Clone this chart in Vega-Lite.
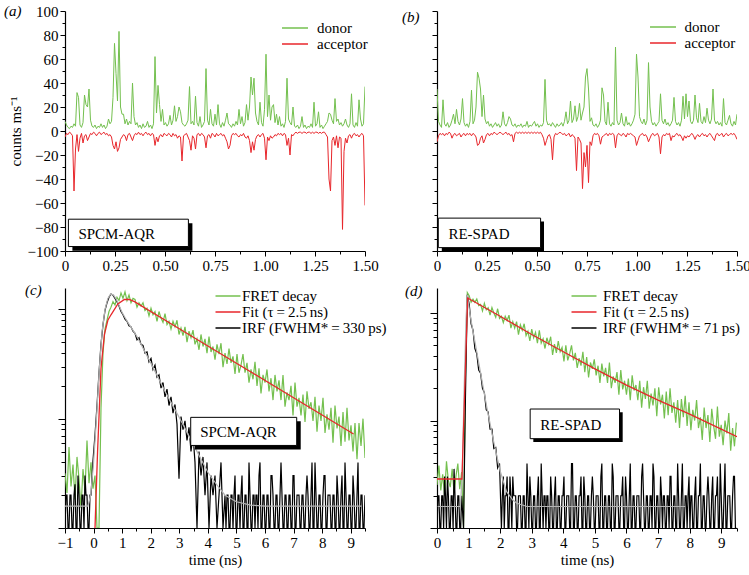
{
"$schema":"https://vega.github.io/schema/vega-lite/v6.json",
"background":"white",
"padding":{"left":4,"top":4,"right":2,"bottom":2},
"config":{
 "font":"Liberation Serif, Times New Roman, serif",
 "view":{"stroke":null},
 "axis":{"grid":false,"domainColor":"#000","domainWidth":1.2,"tickColor":"#000","tickWidth":1,"labelColor":"#000","labelFont":"Liberation Serif, Times New Roman, serif","labelFontSize":15,"labelFlush":false,"labelOverlap":false,"labelPadding":2,"titleColor":"#000","titleFont":"Liberation Serif, Times New Roman, serif","titleFontSize":15,"titleFontWeight":"normal"},
 "legend":{"labelFont":"Liberation Serif, Times New Roman, serif","labelFontSize":15,"labelColor":"#000","padding":0,"symbolStrokeWidth":1.5,"symbolType":"M-2.5,0H2.5","symbolSize":100,"labelLimit":400,"orient":"none","rowPadding":-2},
 "title":{"font":"Liberation Serif, Times New Roman, serif","fontSize":15,"fontWeight":"normal","fontStyle":"italic","color":"#000","anchor":"start","frame":"group","offset":0,"baseline":"middle"},
 "text":{"font":"Liberation Serif, Times New Roman, serif"}
},
"columns":2,
"align":"each",
"spacing":{"row":10,"column":14},
"resolve":{"scale":{"color":"independent"},"legend":{"color":"independent"}},
"datasets":{
"ta":[
{"t":0,"donor":8,"acceptor":-5},{"t":0.0075,"donor":5,"acceptor":-2},{"t":0.015,"donor":3,"acceptor":-3},{"t":0.0225,"donor":2,"acceptor":-1},{"t":0.03,"donor":4,"acceptor":-2},{"t":0.0375,"donor":3,"acceptor":-4},{"t":0.045,"donor":6,"acceptor":-50},{"t":0.0525,"donor":4,"acceptor":-15},{"t":0.06,"donor":32,"acceptor":-3},{"t":0.0675,"donor":28,"acceptor":-17},
{"t":0.075,"donor":5,"acceptor":-6},{"t":0.0825,"donor":3,"acceptor":-2},{"t":0.09,"donor":7,"acceptor":-10},{"t":0.0975,"donor":30,"acceptor":-4},{"t":0.105,"donor":22,"acceptor":-3},{"t":0.1125,"donor":20,"acceptor":-8},{"t":0.12,"donor":35,"acceptor":-5},{"t":0.1275,"donor":9,"acceptor":-2},{"t":0.135,"donor":4,"acceptor":-3},{"t":0.1425,"donor":3,"acceptor":-1},
{"t":0.15,"donor":5,"acceptor":-2},{"t":0.1575,"donor":2,"acceptor":-4},{"t":0.165,"donor":4,"acceptor":-2},{"t":0.1725,"donor":3,"acceptor":-1},{"t":0.18,"donor":6,"acceptor":-3},{"t":0.1875,"donor":3,"acceptor":-2},{"t":0.195,"donor":5,"acceptor":-1},{"t":0.2025,"donor":2,"acceptor":-3},{"t":0.21,"donor":4,"acceptor":-2},{"t":0.2175,"donor":10,"acceptor":-4},
{"t":0.225,"donor":6,"acceptor":-3},{"t":0.2325,"donor":8,"acceptor":-5},{"t":0.24,"donor":28,"acceptor":-12},{"t":0.2475,"donor":73,"acceptor":-15},{"t":0.255,"donor":48,"acceptor":-9},{"t":0.2625,"donor":25,"acceptor":-17},{"t":0.27,"donor":83,"acceptor":-14},{"t":0.2775,"donor":20,"acceptor":-7},{"t":0.285,"donor":14,"acceptor":-5},{"t":0.2925,"donor":14,"acceptor":-3},
{"t":0.3,"donor":6,"acceptor":-4},{"t":0.3075,"donor":10,"acceptor":-8},{"t":0.315,"donor":5,"acceptor":-3},{"t":0.3225,"donor":8,"acceptor":-2},{"t":0.33,"donor":6,"acceptor":-5},{"t":0.3375,"donor":40,"acceptor":-8},{"t":0.345,"donor":12,"acceptor":-4},{"t":0.3525,"donor":5,"acceptor":-2},{"t":0.36,"donor":7,"acceptor":-3},{"t":0.3675,"donor":3,"acceptor":-1},
{"t":0.375,"donor":5,"acceptor":-3},{"t":0.3825,"donor":2,"acceptor":-2},{"t":0.39,"donor":6,"acceptor":-4},{"t":0.3975,"donor":3,"acceptor":-2},{"t":0.405,"donor":4,"acceptor":-1},{"t":0.4125,"donor":8,"acceptor":-3},{"t":0.42,"donor":3,"acceptor":-2},{"t":0.4275,"donor":5,"acceptor":-4},{"t":0.435,"donor":2,"acceptor":-2},{"t":0.4425,"donor":6,"acceptor":-3},
{"t":0.45,"donor":62,"acceptor":-12},{"t":0.4575,"donor":15,"acceptor":-5},{"t":0.465,"donor":38,"acceptor":-9},{"t":0.4725,"donor":22,"acceptor":-4},{"t":0.48,"donor":8,"acceptor":-3},{"t":0.4875,"donor":18,"acceptor":-5},{"t":0.495,"donor":5,"acceptor":-2},{"t":0.5025,"donor":7,"acceptor":-3},{"t":0.51,"donor":4,"acceptor":-4},{"t":0.5175,"donor":6,"acceptor":-2},
{"t":0.525,"donor":13,"acceptor":-3},{"t":0.5325,"donor":5,"acceptor":-5},{"t":0.54,"donor":9,"acceptor":-2},{"t":0.5475,"donor":21,"acceptor":-4},{"t":0.555,"donor":8,"acceptor":-3},{"t":0.5625,"donor":12,"acceptor":-6},{"t":0.57,"donor":20,"acceptor":-4},{"t":0.5775,"donor":16,"acceptor":-5},{"t":0.585,"donor":7,"acceptor":-25},{"t":0.5925,"donor":5,"acceptor":-4},
{"t":0.6,"donor":4,"acceptor":-3},{"t":0.6075,"donor":6,"acceptor":-2},{"t":0.615,"donor":9,"acceptor":-5},{"t":0.6225,"donor":37,"acceptor":-8},{"t":0.63,"donor":6,"acceptor":-16},{"t":0.6375,"donor":8,"acceptor":-4},{"t":0.645,"donor":5,"acceptor":-6},{"t":0.6525,"donor":29,"acceptor":-15},{"t":0.66,"donor":7,"acceptor":-3},{"t":0.6675,"donor":4,"acceptor":-2},
{"t":0.675,"donor":12,"acceptor":-4},{"t":0.6825,"donor":3,"acceptor":-2},{"t":0.69,"donor":5,"acceptor":-3},{"t":0.6975,"donor":8,"acceptor":-5},{"t":0.705,"donor":52,"acceptor":-14},{"t":0.7125,"donor":9,"acceptor":-4},{"t":0.72,"donor":5,"acceptor":-3},{"t":0.7275,"donor":18,"acceptor":-6},{"t":0.735,"donor":6,"acceptor":-2},{"t":0.7425,"donor":4,"acceptor":-3},
{"t":0.75,"donor":14,"acceptor":-5},{"t":0.7575,"donor":5,"acceptor":-2},{"t":0.765,"donor":22,"acceptor":-4},{"t":0.7725,"donor":6,"acceptor":-3},{"t":0.78,"donor":3,"acceptor":-2},{"t":0.7875,"donor":7,"acceptor":-4},{"t":0.795,"donor":4,"acceptor":-3},{"t":0.8025,"donor":9,"acceptor":-6},{"t":0.81,"donor":15,"acceptor":-9},{"t":0.8175,"donor":6,"acceptor":-15},
{"t":0.825,"donor":5,"acceptor":-12},{"t":0.8325,"donor":3,"acceptor":-4},{"t":0.84,"donor":6,"acceptor":-2},{"t":0.8475,"donor":4,"acceptor":-3},{"t":0.855,"donor":8,"acceptor":-2},{"t":0.8625,"donor":5,"acceptor":-4},{"t":0.87,"donor":18,"acceptor":-5},{"t":0.8775,"donor":6,"acceptor":-3},{"t":0.885,"donor":12,"acceptor":-4},{"t":0.8925,"donor":4,"acceptor":-2},
{"t":0.9,"donor":7,"acceptor":-5},{"t":0.9075,"donor":22,"acceptor":-6},{"t":0.915,"donor":9,"acceptor":-4},{"t":0.9225,"donor":20,"acceptor":-8},{"t":0.93,"donor":45,"acceptor":-18},{"t":0.9375,"donor":30,"acceptor":-9},{"t":0.945,"donor":44,"acceptor":-16},{"t":0.9525,"donor":15,"acceptor":-7},{"t":0.96,"donor":8,"acceptor":-4},{"t":0.9675,"donor":5,"acceptor":-3},
{"t":0.975,"donor":24,"acceptor":-5},{"t":0.9825,"donor":7,"acceptor":-3},{"t":0.99,"donor":4,"acceptor":-2},{"t":0.9975,"donor":18,"acceptor":-6},{"t":1.005,"donor":64,"acceptor":-24},{"t":1.0125,"donor":12,"acceptor":-5},{"t":1.02,"donor":30,"acceptor":-8},{"t":1.0275,"donor":9,"acceptor":-4},{"t":1.035,"donor":20,"acceptor":-6},{"t":1.0425,"donor":22,"acceptor":-5},
{"t":1.05,"donor":7,"acceptor":-3},{"t":1.0575,"donor":14,"acceptor":-4},{"t":1.065,"donor":5,"acceptor":-2},{"t":1.0725,"donor":12,"acceptor":-3},{"t":1.08,"donor":4,"acceptor":-2},{"t":1.0875,"donor":6,"acceptor":-4},{"t":1.095,"donor":3,"acceptor":-2},{"t":1.1025,"donor":8,"acceptor":-3},{"t":1.11,"donor":44,"acceptor":-12},{"t":1.1175,"donor":10,"acceptor":-6},
{"t":1.125,"donor":7,"acceptor":-20},{"t":1.1325,"donor":5,"acceptor":-3},{"t":1.14,"donor":20,"acceptor":-4},{"t":1.1475,"donor":4,"acceptor":-2},{"t":1.155,"donor":3,"acceptor":-1},{"t":1.1625,"donor":5,"acceptor":-2},{"t":1.17,"donor":2,"acceptor":-1},{"t":1.1775,"donor":4,"acceptor":-1},{"t":1.185,"donor":12,"acceptor":-2},{"t":1.1925,"donor":3,"acceptor":-1},
{"t":1.2,"donor":5,"acceptor":-1},{"t":1.2075,"donor":2,"acceptor":-2},{"t":1.215,"donor":4,"acceptor":-1},{"t":1.2225,"donor":3,"acceptor":-1},{"t":1.23,"donor":6,"acceptor":-2},{"t":1.2375,"donor":3,"acceptor":-1},{"t":1.245,"donor":24,"acceptor":-2},{"t":1.2525,"donor":4,"acceptor":-1},{"t":1.26,"donor":6,"acceptor":-1},{"t":1.2675,"donor":16,"acceptor":-2},
{"t":1.275,"donor":3,"acceptor":-1},{"t":1.2825,"donor":5,"acceptor":-2},{"t":1.29,"donor":2,"acceptor":-1},{"t":1.2975,"donor":4,"acceptor":-1},{"t":1.305,"donor":6,"acceptor":-3},{"t":1.3125,"donor":8,"acceptor":-5},{"t":1.32,"donor":15,"acceptor":-40},{"t":1.3275,"donor":14,"acceptor":-50},{"t":1.335,"donor":9,"acceptor":-8},{"t":1.3425,"donor":6,"acceptor":-5},
{"t":1.35,"donor":27,"acceptor":-12},{"t":1.3575,"donor":8,"acceptor":-4},{"t":1.365,"donor":10,"acceptor":-14},{"t":1.3725,"donor":5,"acceptor":-5},{"t":1.38,"donor":7,"acceptor":-6},{"t":1.3875,"donor":4,"acceptor":-82},{"t":1.395,"donor":6,"acceptor":-17},{"t":1.4025,"donor":10,"acceptor":-6},{"t":1.41,"donor":5,"acceptor":-10},{"t":1.4175,"donor":3,"acceptor":-4},
{"t":1.425,"donor":6,"acceptor":-3},{"t":1.4325,"donor":31,"acceptor":-6},{"t":1.44,"donor":5,"acceptor":-3},{"t":1.4475,"donor":3,"acceptor":-2},{"t":1.455,"donor":7,"acceptor":-4},{"t":1.4625,"donor":4,"acceptor":-3},{"t":1.47,"donor":26,"acceptor":-5},{"t":1.4775,"donor":10,"acceptor":-3},{"t":1.485,"donor":4,"acceptor":-2},{"t":1.4925,"donor":6,"acceptor":-4},
{"t":1.5,"donor":37,"acceptor":-62}
],
"tb":[
{"t":0,"donor":35,"acceptor":-9},{"t":0.0075,"donor":8,"acceptor":-4},{"t":0.015,"donor":5,"acceptor":-2},{"t":0.0225,"donor":3,"acceptor":-3},{"t":0.03,"donor":26,"acceptor":-2},{"t":0.0375,"donor":6,"acceptor":-4},{"t":0.045,"donor":4,"acceptor":-2},{"t":0.0525,"donor":7,"acceptor":-3},{"t":0.06,"donor":3,"acceptor":-1},{"t":0.0675,"donor":5,"acceptor":-2},
{"t":0.075,"donor":9,"acceptor":-6},{"t":0.0825,"donor":14,"acceptor":-3},{"t":0.09,"donor":6,"acceptor":-2},{"t":0.0975,"donor":18,"acceptor":-4},{"t":0.105,"donor":8,"acceptor":-3},{"t":0.1125,"donor":5,"acceptor":-2},{"t":0.12,"donor":10,"acceptor":-5},{"t":0.1275,"donor":27,"acceptor":-3},{"t":0.135,"donor":7,"acceptor":-2},{"t":0.1425,"donor":4,"acceptor":-4},
{"t":0.15,"donor":6,"acceptor":-2},{"t":0.1575,"donor":3,"acceptor":-3},{"t":0.165,"donor":8,"acceptor":-2},{"t":0.1725,"donor":34,"acceptor":-4},{"t":0.18,"donor":6,"acceptor":-2},{"t":0.1875,"donor":9,"acceptor":-3},{"t":0.195,"donor":20,"acceptor":-5},{"t":0.2025,"donor":49,"acceptor":-12},{"t":0.21,"donor":44,"acceptor":-11},{"t":0.2175,"donor":35,"acceptor":-6},
{"t":0.225,"donor":12,"acceptor":-4},{"t":0.2325,"donor":30,"acceptor":-10},{"t":0.24,"donor":10,"acceptor":-7},{"t":0.2475,"donor":6,"acceptor":-3},{"t":0.255,"donor":8,"acceptor":-2},{"t":0.2625,"donor":4,"acceptor":-4},{"t":0.27,"donor":6,"acceptor":-2},{"t":0.2775,"donor":3,"acceptor":-3},{"t":0.285,"donor":5,"acceptor":-1},{"t":0.2925,"donor":7,"acceptor":-2},
{"t":0.3,"donor":4,"acceptor":-3},{"t":0.3075,"donor":6,"acceptor":-2},{"t":0.315,"donor":3,"acceptor":-1},{"t":0.3225,"donor":5,"acceptor":-2},{"t":0.33,"donor":16,"acceptor":-3},{"t":0.3375,"donor":6,"acceptor":-2},{"t":0.345,"donor":4,"acceptor":-1},{"t":0.3525,"donor":7,"acceptor":-3},{"t":0.36,"donor":12,"acceptor":-2},{"t":0.3675,"donor":10,"acceptor":-4},
{"t":0.375,"donor":5,"acceptor":-3},{"t":0.3825,"donor":4,"acceptor":-9},{"t":0.39,"donor":6,"acceptor":-2},{"t":0.3975,"donor":3,"acceptor":-1},{"t":0.405,"donor":5,"acceptor":-2},{"t":0.4125,"donor":4,"acceptor":-1},{"t":0.42,"donor":6,"acceptor":-2},{"t":0.4275,"donor":3,"acceptor":-1},{"t":0.435,"donor":5,"acceptor":-2},{"t":0.4425,"donor":4,"acceptor":-1},
{"t":0.45,"donor":8,"acceptor":-2},{"t":0.4575,"donor":3,"acceptor":-1},{"t":0.465,"donor":5,"acceptor":-2},{"t":0.4725,"donor":4,"acceptor":-1},{"t":0.48,"donor":6,"acceptor":-2},{"t":0.4875,"donor":8,"acceptor":-1},{"t":0.495,"donor":4,"acceptor":-2},{"t":0.5025,"donor":6,"acceptor":-1},{"t":0.51,"donor":3,"acceptor":-2},{"t":0.5175,"donor":5,"acceptor":-1},
{"t":0.525,"donor":4,"acceptor":-3},{"t":0.5325,"donor":7,"acceptor":-6},{"t":0.54,"donor":43,"acceptor":-12},{"t":0.5475,"donor":9,"acceptor":-8},{"t":0.555,"donor":5,"acceptor":-4},{"t":0.5625,"donor":6,"acceptor":-3},{"t":0.57,"donor":4,"acceptor":-7},{"t":0.5775,"donor":7,"acceptor":-24},{"t":0.585,"donor":5,"acceptor":-5},{"t":0.5925,"donor":3,"acceptor":-2},
{"t":0.6,"donor":6,"acceptor":-3},{"t":0.6075,"donor":4,"acceptor":-2},{"t":0.615,"donor":5,"acceptor":-1},{"t":0.6225,"donor":7,"acceptor":-2},{"t":0.63,"donor":4,"acceptor":-3},{"t":0.6375,"donor":8,"acceptor":-2},{"t":0.645,"donor":16,"acceptor":-4},{"t":0.6525,"donor":6,"acceptor":-3},{"t":0.66,"donor":9,"acceptor":-2},{"t":0.6675,"donor":25,"acceptor":-5},
{"t":0.675,"donor":7,"acceptor":-3},{"t":0.6825,"donor":10,"acceptor":-4},{"t":0.69,"donor":21,"acceptor":-6},{"t":0.6975,"donor":8,"acceptor":-33},{"t":0.705,"donor":12,"acceptor":-5},{"t":0.7125,"donor":23,"acceptor":-7},{"t":0.72,"donor":9,"acceptor":-10},{"t":0.7275,"donor":15,"acceptor":-48},{"t":0.735,"donor":20,"acceptor":-18},{"t":0.7425,"donor":45,"acceptor":-30},
{"t":0.75,"donor":52,"acceptor":-12},{"t":0.7575,"donor":35,"acceptor":-43},{"t":0.765,"donor":8,"acceptor":-9},{"t":0.7725,"donor":11,"acceptor":-12},{"t":0.78,"donor":5,"acceptor":-4},{"t":0.7875,"donor":4,"acceptor":-2},{"t":0.795,"donor":6,"acceptor":-3},{"t":0.8025,"donor":3,"acceptor":-2},{"t":0.81,"donor":5,"acceptor":-4},{"t":0.8175,"donor":9,"acceptor":-11},
{"t":0.825,"donor":36,"acceptor":-5},{"t":0.8325,"donor":30,"acceptor":-4},{"t":0.84,"donor":8,"acceptor":-3},{"t":0.8475,"donor":5,"acceptor":-2},{"t":0.855,"donor":24,"acceptor":-4},{"t":0.8625,"donor":6,"acceptor":-2},{"t":0.87,"donor":4,"acceptor":-3},{"t":0.8775,"donor":7,"acceptor":-2},{"t":0.885,"donor":5,"acceptor":-3},{"t":0.8925,"donor":70,"acceptor":-14},
{"t":0.9,"donor":9,"acceptor":-4},{"t":0.9075,"donor":5,"acceptor":-2},{"t":0.915,"donor":7,"acceptor":-3},{"t":0.9225,"donor":15,"acceptor":-4},{"t":0.93,"donor":6,"acceptor":-2},{"t":0.9375,"donor":4,"acceptor":-3},{"t":0.945,"donor":12,"acceptor":-5},{"t":0.9525,"donor":5,"acceptor":-2},{"t":0.96,"donor":7,"acceptor":-3},{"t":0.9675,"donor":4,"acceptor":-2},
{"t":0.975,"donor":6,"acceptor":-3},{"t":0.9825,"donor":9,"acceptor":-4},{"t":0.99,"donor":14,"acceptor":-5},{"t":0.9975,"donor":64,"acceptor":-12},{"t":1.005,"donor":45,"acceptor":-8},{"t":1.0125,"donor":12,"acceptor":-4},{"t":1.02,"donor":8,"acceptor":-3},{"t":1.0275,"donor":6,"acceptor":-2},{"t":1.035,"donor":10,"acceptor":-4},{"t":1.0425,"donor":5,"acceptor":-3},
{"t":1.05,"donor":9,"acceptor":-5},{"t":1.0575,"donor":57,"acceptor":-9},{"t":1.065,"donor":20,"acceptor":-6},{"t":1.0725,"donor":8,"acceptor":-3},{"t":1.08,"donor":5,"acceptor":-2},{"t":1.0875,"donor":7,"acceptor":-4},{"t":1.095,"donor":4,"acceptor":-3},{"t":1.1025,"donor":6,"acceptor":-2},{"t":1.11,"donor":8,"acceptor":-5},{"t":1.1175,"donor":31,"acceptor":-19},
{"t":1.125,"donor":9,"acceptor":-5},{"t":1.1325,"donor":6,"acceptor":-3},{"t":1.14,"donor":10,"acceptor":-4},{"t":1.1475,"donor":5,"acceptor":-2},{"t":1.155,"donor":7,"acceptor":-3},{"t":1.1625,"donor":4,"acceptor":-2},{"t":1.17,"donor":6,"acceptor":-8},{"t":1.1775,"donor":9,"acceptor":-4},{"t":1.185,"donor":28,"acceptor":-5},{"t":1.1925,"donor":8,"acceptor":-3},
{"t":1.2,"donor":5,"acceptor":-2},{"t":1.2075,"donor":7,"acceptor":-4},{"t":1.215,"donor":4,"acceptor":-3},{"t":1.2225,"donor":9,"acceptor":-5},{"t":1.23,"donor":29,"acceptor":-8},{"t":1.2375,"donor":10,"acceptor":-4},{"t":1.245,"donor":31,"acceptor":-6},{"t":1.2525,"donor":12,"acceptor":-4},{"t":1.26,"donor":25,"acceptor":-5},{"t":1.2675,"donor":8,"acceptor":-3},
{"t":1.275,"donor":6,"acceptor":-2},{"t":1.2825,"donor":9,"acceptor":-4},{"t":1.29,"donor":30,"acceptor":-7},{"t":1.2975,"donor":11,"acceptor":-4},{"t":1.305,"donor":7,"acceptor":-3},{"t":1.3125,"donor":23,"acceptor":-5},{"t":1.32,"donor":8,"acceptor":-3},{"t":1.3275,"donor":6,"acceptor":-2},{"t":1.335,"donor":12,"acceptor":-4},{"t":1.3425,"donor":7,"acceptor":-3},
{"t":1.35,"donor":19,"acceptor":-5},{"t":1.3575,"donor":9,"acceptor":-3},{"t":1.365,"donor":6,"acceptor":-2},{"t":1.3725,"donor":10,"acceptor":-4},{"t":1.38,"donor":35,"acceptor":-6},{"t":1.3875,"donor":9,"acceptor":-8},{"t":1.395,"donor":6,"acceptor":-3},{"t":1.4025,"donor":8,"acceptor":-2},{"t":1.41,"donor":5,"acceptor":-4},{"t":1.4175,"donor":7,"acceptor":-3},
{"t":1.425,"donor":4,"acceptor":-2},{"t":1.4325,"donor":27,"acceptor":-5},{"t":1.44,"donor":7,"acceptor":-3},{"t":1.4475,"donor":5,"acceptor":-2},{"t":1.455,"donor":9,"acceptor":-4},{"t":1.4625,"donor":13,"acceptor":-3},{"t":1.47,"donor":6,"acceptor":-2},{"t":1.4775,"donor":4,"acceptor":-3},{"t":1.485,"donor":8,"acceptor":-2},{"t":1.4925,"donor":5,"acceptor":-4},
{"t":1.5,"donor":14,"acceptor":-7}
],
"tc":[
{"t":-1,"f":0.5,"i":0},{"t":-0.93,"f":0.32,"i":0.3},{"t":-0.86,"f":0.74,"i":0},{"t":-0.79,"f":0.38,"i":0.3},{"t":-0.72,"f":0.58,"i":0},{"t":-0.65,"f":0.26,"i":0.4},{"t":-0.58,"f":0.65,"i":0},{"t":-0.51,"f":0.45,"i":0.3},{"t":-0.44,"f":0.18,"i":0},{"t":-0.37,"f":0.54,"i":0.3},
{"t":-0.3,"f":0.34,"i":0.48},{"t":-0.23,"f":0.8,"i":0.3},{"t":-0.16,"f":0.41,"i":0},{"t":-0.09,"f":0.6,"i":0.3},{"t":-0.02,"f":0.36,"i":0.62},{"t":0.05,"f":0.48,"i":0.85},{"t":0.12,"f":0,"i":1.12},{"t":0.19,"f":0,"i":1.42},{"t":0.26,"f":1.1,"i":1.68},{"t":0.33,"f":1.6,"i":1.86},
{"t":0.4,"f":1.82,"i":1.99},{"t":0.47,"f":1.9,"i":2.06},{"t":0.54,"f":1.98,"i":2.11},{"t":0.61,"f":2.02,"i":2.14},{"t":0.68,"f":2.07,"i":2.13},{"t":0.75,"f":2.04,"i":2.1},{"t":0.82,"f":2.11,"i":2.07},{"t":0.89,"f":2.08,"i":2.03},{"t":0.96,"f":2.15,"i":1.98},{"t":1.03,"f":2.1,"i":1.95},
{"t":1.1,"f":2.16,"i":1.91},{"t":1.17,"f":2.08,"i":1.89},{"t":1.24,"f":2.13,"i":1.85},{"t":1.31,"f":2.06,"i":1.84},{"t":1.38,"f":2.1,"i":1.8},{"t":1.45,"f":2.09,"i":1.78},{"t":1.52,"f":2.02,"i":1.72},{"t":1.59,"f":2.06,"i":1.74},{"t":1.66,"f":2.03,"i":1.68},{"t":1.73,"f":2.06,"i":1.67},
{"t":1.8,"f":1.99,"i":1.6},{"t":1.87,"f":2.01,"i":1.61},{"t":1.94,"f":1.94,"i":1.52},{"t":2.01,"f":2.01,"i":1.55},{"t":2.08,"f":1.95,"i":1.45},{"t":2.15,"f":1.98,"i":1.49},{"t":2.22,"f":1.89,"i":1.38},{"t":2.29,"f":1.98,"i":1.4},{"t":2.36,"f":1.92,"i":1.28},{"t":2.43,"f":1.88,"i":1.33},
{"t":2.5,"f":1.96,"i":1.2},{"t":2.57,"f":1.86,"i":1.27},{"t":2.64,"f":1.89,"i":1.12},{"t":2.71,"f":1.82,"i":1.2},{"t":2.78,"f":1.89,"i":1.05},{"t":2.85,"f":1.84,"i":1.13},{"t":2.92,"f":1.9,"i":0.95},{"t":2.99,"f":1.77,"i":0.45},{"t":3.06,"f":1.83,"i":1.02},{"t":3.13,"f":1.76,"i":0.9},
{"t":3.2,"f":1.84,"i":0.98},{"t":3.27,"f":1.7,"i":0.8},{"t":3.34,"f":1.8,"i":0.92},{"t":3.41,"f":1.74,"i":0.7},{"t":3.48,"f":1.81,"i":0.85},{"t":3.55,"f":1.68,"i":0.6},{"t":3.62,"f":1.73,"i":0},{"t":3.69,"f":1.63,"i":0.7},{"t":3.76,"f":1.77,"i":0.48},{"t":3.83,"f":1.66,"i":0.65},
{"t":3.9,"f":1.73,"i":0.3},{"t":3.97,"f":1.6,"i":0.6},{"t":4.04,"f":1.75,"i":0},{"t":4.11,"f":1.61,"i":0.48},{"t":4.18,"f":1.66,"i":0.3},{"t":4.25,"f":1.54,"i":0.48},{"t":4.32,"f":1.68,"i":0},{"t":4.39,"f":1.59,"i":0.3},{"t":4.46,"f":1.69,"i":0.6},{"t":4.53,"f":1.47,"i":0},
{"t":4.6,"f":1.6,"i":0.3},{"t":4.67,"f":1.5,"i":0.3},{"t":4.74,"f":1.64,"i":0},{"t":4.81,"f":1.51,"i":0.3},{"t":4.88,"f":1.57,"i":0},{"t":4.95,"f":1.41,"i":0.48},{"t":5.02,"f":1.59,"i":0},{"t":5.09,"f":1.42,"i":0.3},{"t":5.16,"f":1.49,"i":0.3},{"t":5.23,"f":1.59,"i":0},
{"t":5.3,"f":1.42,"i":0.3},{"t":5.37,"f":1.51,"i":0},{"t":5.44,"f":1.33,"i":0.6},{"t":5.51,"f":1.45,"i":0},{"t":5.58,"f":1.36,"i":0.3},{"t":5.65,"f":1.52,"i":0},{"t":5.72,"f":1.3,"i":0.3},{"t":5.79,"f":1.46,"i":0.48},{"t":5.86,"f":1.23,"i":0},{"t":5.93,"f":1.4,"i":0.3},
{"t":6,"f":1.33,"i":0},{"t":6.07,"f":1.45,"i":0.3},{"t":6.14,"f":1.25,"i":0},{"t":6.21,"f":1.37,"i":0.48},{"t":6.28,"f":1.17,"i":0.3},{"t":6.35,"f":1.4,"i":0},{"t":6.42,"f":1.25,"i":0.3},{"t":6.49,"f":1.35,"i":0},{"t":6.56,"f":1.17,"i":0.6},{"t":6.63,"f":1.4,"i":0},
{"t":6.7,"f":1.11,"i":0.3},{"t":6.77,"f":1.24,"i":0},{"t":6.84,"f":1.17,"i":0.3},{"t":6.91,"f":1.3,"i":0},{"t":6.98,"f":1.03,"i":0.48},{"t":7.05,"f":1.33,"i":0},{"t":7.12,"f":1.11,"i":0.3},{"t":7.19,"f":1.19,"i":0.3},{"t":7.26,"f":1.03,"i":0},{"t":7.33,"f":1.22,"i":0.3},
{"t":7.4,"f":0.97,"i":0},{"t":7.47,"f":1.25,"i":0.48},{"t":7.54,"f":1.09,"i":0},{"t":7.61,"f":1.15,"i":0.3},{"t":7.68,"f":0.98,"i":0},{"t":7.75,"f":1.2,"i":0.6},{"t":7.82,"f":0.88,"i":0},{"t":7.89,"f":1.12,"i":0.3},{"t":7.96,"f":0.98,"i":0},{"t":8.03,"f":1.19,"i":0.3},
{"t":8.1,"f":0.87,"i":0.48},{"t":8.17,"f":1.04,"i":0},{"t":8.24,"f":0.9,"i":0.3},{"t":8.31,"f":1.1,"i":0},{"t":8.38,"f":0.78,"i":0.3},{"t":8.45,"f":1.12,"i":0},{"t":8.52,"f":0.91,"i":0.48},{"t":8.59,"f":1.02,"i":0},{"t":8.66,"f":0.75,"i":0.3},{"t":8.73,"f":1.06,"i":0},
{"t":8.8,"f":0.79,"i":0.6},{"t":8.87,"f":1.1,"i":0},{"t":8.94,"f":0.8,"i":0.3},{"t":9.01,"f":0.94,"i":0},{"t":9.08,"f":0.7,"i":0.48},{"t":9.15,"f":0.96,"i":0},{"t":9.22,"f":0.63,"i":0.3},{"t":9.29,"f":0.96,"i":0},{"t":9.36,"f":0.75,"i":0.3},{"t":9.43,"f":1,"i":0},
{"t":9.5,"f":0.64,"i":0.3},
{"t":-0.965,"i":0.3},{"t":-0.895,"i":0},{"t":-0.825,"i":0.3},{"t":-0.755,"i":0},{"t":-0.685,"i":0.3},{"t":-0.615,"i":0},{"t":-0.545,"i":0.48},{"t":-0.475,"i":0},{"t":-0.405,"i":0.3},{"t":-0.335,"i":0},{"t":-0.265,"i":0.3},{"t":-0.195,"i":0},{"t":-0.125,"i":0.3},
{"t":4.635,"i":0},{"t":4.705,"i":0.3},{"t":4.775,"i":0},{"t":4.845,"i":0.3},{"t":4.915,"i":0.3},{"t":4.985,"i":0},{"t":5.055,"i":0.3},{"t":5.125,"i":0},{"t":5.195,"i":0.48},{"t":5.265,"i":0},
{"t":5.335,"i":0.3},{"t":5.405,"i":0},{"t":5.475,"i":0.3},{"t":5.545,"i":0},{"t":5.615,"i":0.3},{"t":5.685,"i":0.3},{"t":5.755,"i":0},{"t":5.825,"i":0.6},{"t":5.895,"i":0},{"t":5.965,"i":0.3},
{"t":6.035,"i":0},{"t":6.105,"i":0.3},{"t":6.175,"i":0},{"t":6.245,"i":0.48},{"t":6.315,"i":0},{"t":6.385,"i":0.3},{"t":6.455,"i":0},{"t":6.525,"i":0.3},{"t":6.595,"i":0.3},{"t":6.665,"i":0},
{"t":6.735,"i":0.3},{"t":6.805,"i":0},{"t":6.875,"i":0.3},{"t":6.945,"i":0},{"t":7.015,"i":0.48},{"t":7.085,"i":0},{"t":7.155,"i":0.3},{"t":7.225,"i":0},{"t":7.295,"i":0.3},{"t":7.365,"i":0},
{"t":7.435,"i":0.3},{"t":7.505,"i":0.3},{"t":7.575,"i":0},{"t":7.645,"i":0.6},{"t":7.715,"i":0},{"t":7.785,"i":0.3},{"t":7.855,"i":0},{"t":7.925,"i":0.3},{"t":7.995,"i":0},{"t":8.065,"i":0.48},
{"t":8.135,"i":0},{"t":8.205,"i":0.3},{"t":8.275,"i":0.3},{"t":8.345,"i":0},{"t":8.415,"i":0.3},{"t":8.485,"i":0},{"t":8.555,"i":0.3},{"t":8.625,"i":0},{"t":8.695,"i":0.48},{"t":8.765,"i":0},
{"t":8.835,"i":0.3},{"t":8.905,"i":0},{"t":8.975,"i":0.3},{"t":9.045,"i":0},{"t":9.115,"i":0.3},{"t":9.185,"i":0},{"t":9.255,"i":0.6},{"t":9.325,"i":0},{"t":9.395,"i":0.3},{"t":9.465,"i":0}
],
"gc":[{"t":-1,"L":0.2},{"t":-0.2,"L":0.2},{"t":-0.1,"L":0.3},{"t":0,"L":0.6},{"t":0.1,"L":1},{"t":0.2,"L":1.45},{"t":0.3,"L":1.8},{"t":0.4,"L":2},{"t":0.5,"L":2.1},{"t":0.6,"L":2.14},{"t":0.7,"L":2.13},{"t":0.8,"L":2.09},{"t":0.9,"L":2.03},{"t":1,"L":1.97},{"t":1.2,"L":1.88},{"t":1.5,"L":1.76},{"t":2,"L":1.51},{"t":2.5,"L":1.25},{"t":3,"L":1.01},{"t":3.5,"L":0.76},{"t":4,"L":0.51},{"t":4.3,"L":0.4},{"t":4.6,"L":0.3},{"t":5,"L":0.24},{"t":5.5,"L":0.21},{"t":6,"L":0.2},{"t":9.38,"L":0.2}],
"rc":[{"t":0.05,"L":0},{"t":0.14,"L":0.7},{"t":0.26,"L":1.46},{"t":0.38,"L":1.77},{"t":0.5,"L":1.9},{"t":0.61,"L":1.95},{"t":0.85,"L":2.05},{"t":1.08,"L":2.09},{"t":1.25,"L":2.09},{"t":1.43,"L":2.07},{"t":3,"L":1.822},{"t":5,"L":1.507},{"t":7,"L":1.191},{"t":9.1,"L":0.86}],
"td":[
{"t":0,"f":0.4,"i":0},{"t":0.06,"f":0.58,"i":0.3},{"t":0.12,"f":0.35,"i":0},{"t":0.18,"f":0.5,"i":0.3},{"t":0.24,"f":0.3,"i":0.48},{"t":0.3,"f":0.62,"i":0},{"t":0.36,"f":0.44,"i":0.3},{"t":0.42,"f":0.38,"i":0},{"t":0.48,"f":0.55,"i":0.3},{"t":0.54,"f":0.33,"i":0.55},
{"t":0.6,"f":0.48,"i":0},{"t":0.66,"f":0.6,"i":0.3},{"t":0.72,"f":0.36,"i":0},{"t":0.78,"f":0.52,"i":0.3},{"t":0.84,"f":0,"i":0},{"t":0.9,"f":1.4,"i":1.2},{"t":0.96,"f":2.19,"i":2.17},{"t":1.02,"f":2.16,"i":2.08},{"t":1.08,"f":2.1,"i":1.9},{"t":1.14,"f":2.13,"i":1.84},
{"t":1.2,"f":2.1,"i":1.67},{"t":1.26,"f":2.13,"i":1.62},{"t":1.32,"f":2.07,"i":1.47},{"t":1.38,"f":2.08,"i":1.44},{"t":1.44,"f":2.02,"i":1.3},{"t":1.5,"f":2.09,"i":1.26},{"t":1.56,"f":2.03,"i":1.1},{"t":1.62,"f":2.05,"i":1.08},{"t":1.68,"f":1.98,"i":0.92},{"t":1.74,"f":2.05,"i":0.92},
{"t":1.8,"f":2,"i":0.74},{"t":1.86,"f":1.96,"i":0.75},{"t":1.92,"f":2.04,"i":0.56},{"t":1.98,"f":1.95,"i":0.6},{"t":2.04,"f":1.97,"i":0},{"t":2.1,"f":1.91,"i":0.48},{"t":2.16,"f":1.97,"i":0.3},{"t":2.22,"f":1.93,"i":0.48},{"t":2.28,"f":1.98,"i":0},{"t":2.34,"f":1.86,"i":0.3},
{"t":2.4,"f":1.92,"i":0.48},{"t":2.46,"f":1.86,"i":0.3},{"t":2.52,"f":1.92,"i":0},{"t":2.58,"f":1.8,"i":0.3},{"t":2.64,"f":1.89,"i":0.3},{"t":2.7,"f":1.84,"i":0},{"t":2.76,"f":1.9,"i":0.3},{"t":2.82,"f":1.79,"i":0},{"t":2.88,"f":1.83,"i":0.3},{"t":2.94,"f":1.74,"i":0.48},
{"t":3,"f":1.85,"i":0},{"t":3.06,"f":1.77,"i":0.3},{"t":3.12,"f":1.82,"i":0},{"t":3.18,"f":1.72,"i":0.3},{"t":3.24,"f":1.84,"i":0},{"t":3.3,"f":1.72,"i":0.6},{"t":3.36,"f":1.76,"i":0},{"t":3.42,"f":1.67,"i":0.3},{"t":3.48,"f":1.77,"i":0.3},{"t":3.54,"f":1.71,"i":0},
{"t":3.6,"f":1.78,"i":0.48},{"t":3.66,"f":1.61,"i":0},{"t":3.72,"f":1.71,"i":0.3},{"t":3.78,"f":1.63,"i":0},{"t":3.84,"f":1.74,"i":0.3},{"t":3.9,"f":1.64,"i":0},{"t":3.96,"f":1.68,"i":0.3},{"t":4.02,"f":1.55,"i":0.48},{"t":4.08,"f":1.7,"i":0},{"t":4.14,"f":1.56,"i":0.3},
{"t":4.2,"f":1.62,"i":0},{"t":4.26,"f":1.7,"i":0.6},{"t":4.32,"f":1.56,"i":0},{"t":4.38,"f":1.63,"i":0.3},{"t":4.44,"f":1.49,"i":0},{"t":4.5,"f":1.58,"i":0.3},{"t":4.56,"f":1.51,"i":0.48},{"t":4.62,"f":1.64,"i":0},{"t":4.68,"f":1.45,"i":0.3},{"t":4.74,"f":1.59,"i":0},
{"t":4.8,"f":1.4,"i":0.3},{"t":4.86,"f":1.54,"i":0},{"t":4.92,"f":1.48,"i":0.48},{"t":4.98,"f":1.57,"i":0},{"t":5.04,"f":1.42,"i":0.3},{"t":5.1,"f":1.51,"i":0.3},{"t":5.16,"f":1.35,"i":0},{"t":5.22,"f":1.53,"i":0.6},{"t":5.28,"f":1.41,"i":0},{"t":5.34,"f":1.49,"i":0.3},
{"t":5.4,"f":1.35,"i":0},{"t":5.46,"f":1.54,"i":0.3},{"t":5.52,"f":1.3,"i":0},{"t":5.58,"f":1.41,"i":0.48},{"t":5.64,"f":1.35,"i":0},{"t":5.7,"f":1.45,"i":0.3},{"t":5.76,"f":1.24,"i":0},{"t":5.82,"f":1.47,"i":0.3},{"t":5.88,"f":1.29,"i":0.48},{"t":5.94,"f":1.37,"i":0},
{"t":6,"f":1.24,"i":0.3},{"t":6.06,"f":1.39,"i":0},{"t":6.12,"f":1.19,"i":0.6},{"t":6.18,"f":1.42,"i":0},{"t":6.24,"f":1.28,"i":0.3},{"t":6.3,"f":1.33,"i":0},{"t":6.36,"f":1.19,"i":0.3},{"t":6.42,"f":1.37,"i":0},{"t":6.48,"f":1.12,"i":0.48},{"t":6.54,"f":1.31,"i":0.3},
{"t":6.6,"f":1.2,"i":0},{"t":6.66,"f":1.37,"i":0.3},{"t":6.72,"f":1.11,"i":0},{"t":6.78,"f":1.25,"i":0.3},{"t":6.84,"f":1.14,"i":0.6},{"t":6.9,"f":1.3,"i":0},{"t":6.96,"f":1.04,"i":0.3},{"t":7.02,"f":1.31,"i":0},{"t":7.08,"f":1.15,"i":0.48},{"t":7.14,"f":1.24,"i":0},
{"t":7.2,"f":1.02,"i":0.3},{"t":7.26,"f":1.27,"i":0},{"t":7.32,"f":1.05,"i":0.3},{"t":7.38,"f":1.3,"i":0.48},{"t":7.44,"f":1.07,"i":0},{"t":7.5,"f":1.17,"i":0.3},{"t":7.56,"f":0.98,"i":0},{"t":7.62,"f":1.19,"i":0.6},{"t":7.68,"f":0.93,"i":0},{"t":7.74,"f":1.2,"i":0.3},
{"t":7.8,"f":1.03,"i":0},{"t":7.86,"f":1.23,"i":0.3},{"t":7.92,"f":0.95,"i":0},{"t":7.98,"f":1.17,"i":0.48},{"t":8.04,"f":0.91,"i":0.3},{"t":8.1,"f":1.1,"i":0},{"t":8.16,"f":1,"i":0.3},{"t":8.22,"f":1.19,"i":0},{"t":8.28,"f":0.93,"i":0.3},{"t":8.34,"f":1.03,"i":0.6},
{"t":8.4,"f":0.82,"i":0},{"t":8.46,"f":1.12,"i":0.3},{"t":8.52,"f":0.93,"i":0},{"t":8.58,"f":1.05,"i":0.48},{"t":8.64,"f":0.8,"i":0},{"t":8.7,"f":1.11,"i":0.3},{"t":8.76,"f":0.95,"i":0},{"t":8.82,"f":0.83,"i":0.3},{"t":8.88,"f":1.13,"i":0.48},{"t":8.94,"f":0.85,"i":0},
{"t":9,"f":0.96,"i":0.3},{"t":9.06,"f":0.77,"i":0},{"t":9.12,"f":1,"i":0.6},{"t":9.18,"f":0.88,"i":0},{"t":9.24,"f":1.07,"i":0.3},{"t":9.3,"f":0.72,"i":0},{"t":9.36,"f":0.93,"i":0.3},{"t":9.42,"f":0.76,"i":0.48},{"t":9.48,"f":0.98,"i":0},
{"t":0.03,"i":0.3},{"t":0.09,"i":0},{"t":0.15,"i":0.3},{"t":0.21,"i":0},{"t":0.27,"i":0.3},{"t":0.33,"i":0.48},{"t":0.39,"i":0},{"t":0.45,"i":0.3},{"t":0.51,"i":0},{"t":0.57,"i":0.3},{"t":0.63,"i":0},{"t":0.69,"i":0.3},{"t":0.75,"i":0},
{"t":2.07,"i":0.3},{"t":2.13,"i":0},{"t":2.19,"i":0.3},{"t":2.25,"i":0},{"t":2.31,"i":0.48},{"t":2.37,"i":0},{"t":2.43,"i":0.3},{"t":2.49,"i":0.3},{"t":2.55,"i":0},{"t":2.61,"i":0.3},
{"t":2.67,"i":0},{"t":2.73,"i":0.3},{"t":2.79,"i":0},{"t":2.85,"i":0.6},{"t":2.91,"i":0},{"t":2.97,"i":0.3},{"t":3.03,"i":0},{"t":3.09,"i":0.3},{"t":3.15,"i":0},{"t":3.21,"i":0.48},
{"t":3.27,"i":0},{"t":3.33,"i":0.3},{"t":3.39,"i":0.3},{"t":3.45,"i":0},{"t":3.51,"i":0.3},{"t":3.57,"i":0},{"t":3.63,"i":0.3},{"t":3.69,"i":0},{"t":3.75,"i":0.48},{"t":3.81,"i":0},
{"t":3.87,"i":0.3},{"t":3.93,"i":0},{"t":3.99,"i":0.3},{"t":4.05,"i":0},{"t":4.11,"i":0.3},{"t":4.17,"i":0.3},{"t":4.23,"i":0},{"t":4.29,"i":0.6},{"t":4.35,"i":0},{"t":4.41,"i":0.3},
{"t":4.47,"i":0},{"t":4.53,"i":0.3},{"t":4.59,"i":0},{"t":4.65,"i":0.48},{"t":4.71,"i":0},{"t":4.77,"i":0.3},{"t":4.83,"i":0},{"t":4.89,"i":0.3},{"t":4.95,"i":0.3},{"t":5.01,"i":0},
{"t":5.07,"i":0.3},{"t":5.13,"i":0},{"t":5.19,"i":0.48},{"t":5.25,"i":0},{"t":5.31,"i":0.3},{"t":5.37,"i":0},{"t":5.43,"i":0.3},{"t":5.49,"i":0},{"t":5.55,"i":0.6},{"t":5.61,"i":0},
{"t":5.67,"i":0.3},{"t":5.73,"i":0.3},{"t":5.79,"i":0},{"t":5.85,"i":0.3},{"t":5.91,"i":0},{"t":5.97,"i":0.48},{"t":6.03,"i":0},{"t":6.09,"i":0.3},{"t":6.15,"i":0},{"t":6.21,"i":0.3},
{"t":6.27,"i":0},{"t":6.33,"i":0.3},{"t":6.39,"i":0.3},{"t":6.45,"i":0},{"t":6.51,"i":0.6},{"t":6.57,"i":0},{"t":6.63,"i":0.3},{"t":6.69,"i":0},{"t":6.75,"i":0.3},{"t":6.81,"i":0},
{"t":6.87,"i":0.48},{"t":6.93,"i":0},{"t":6.99,"i":0.3},{"t":7.05,"i":0},{"t":7.11,"i":0.3},{"t":7.17,"i":0.3},{"t":7.23,"i":0},{"t":7.29,"i":0.3},{"t":7.35,"i":0},{"t":7.41,"i":0.48},
{"t":7.47,"i":0},{"t":7.53,"i":0.3},{"t":7.59,"i":0},{"t":7.65,"i":0.3},{"t":7.71,"i":0},{"t":7.77,"i":0.6},{"t":7.83,"i":0},{"t":7.89,"i":0.3},{"t":7.95,"i":0.3},{"t":8.01,"i":0},
{"t":8.07,"i":0.3},{"t":8.13,"i":0},{"t":8.19,"i":0.48},{"t":8.25,"i":0},{"t":8.31,"i":0.3},{"t":8.37,"i":0},{"t":8.43,"i":0.3},{"t":8.49,"i":0},{"t":8.55,"i":0.3},{"t":8.61,"i":0.3},
{"t":8.67,"i":0},{"t":8.73,"i":0.48},{"t":8.79,"i":0},{"t":8.85,"i":0.3},{"t":8.91,"i":0},{"t":8.97,"i":0.6},{"t":9.03,"i":0},{"t":9.09,"i":0.3},{"t":9.15,"i":0},{"t":9.21,"i":0.3},
{"t":9.27,"i":0.3},{"t":9.33,"i":0},{"t":9.39,"i":0.48},{"t":9.45,"i":0}
],
"gd":[{"t":0.02,"L":0.2},{"t":0.74,"L":0.2},{"t":0.8,"L":0.5},{"t":0.86,"L":1.3},{"t":0.92,"L":1.95},{"t":0.96,"L":2.17},{"t":1,"L":2.08},{"t":1.08,"L":1.93},{"t":1.16,"L":1.8},{"t":1.37,"L":1.46},{"t":1.58,"L":1.12},{"t":1.79,"L":0.81},{"t":2,"L":0.53},{"t":2.2,"L":0.34},{"t":2.4,"L":0.26},{"t":2.53,"L":0.23},{"t":2.85,"L":0.2},{"t":7.86,"L":0.2}],
"rd":[{"t":0,"L":0.456},{"t":0.79,"L":0.456},{"t":0.97,"L":2.14},{"t":2,"L":1.97},{"t":3,"L":1.8},{"t":4,"L":1.64},{"t":5,"L":1.48},{"t":6,"L":1.33},{"t":7,"L":1.19},{"t":8,"L":1.06},{"t":9,"L":0.92},{"t":9.5,"L":0.85}]
},
"concat":[
{
 "width":300,"height":240,
 "title":{"text":"(a)","dx":-61,"dy":19},
 "layer":[
  {"data":{"name":"ta"},"transform":[{"fold":["donor","acceptor"],"as":["series","v"]}],
   "mark":{"type":"line","strokeWidth":1,"clip":true},
   "encoding":{
    "x":{"field":"t","type":"quantitative","scale":{"domain":[0,1.5],"nice":false,"zero":false},
     "axis":{"title":null,"labelOverlap":false,"tickCount":100,"values":[0,0.125,0.25,0.375,0.5,0.625,0.75,0.875,1,1.125,1.25,1.375,1.5],"labelExpr":"datum.value == 0 ? '0' : ((datum.value*4) % 1 == 0 ? format(datum.value, '.2f') : '')","tickSize":{"condition":{"test":"(datum.value*4) % 1 != 0","value":3},"value":5}}},
    "y":{"field":"v","type":"quantitative","scale":{"domain":[-100,100],"nice":false},
     "axis":{"title":"counts ms⁻¹","titlePadding":4,"labelOverlap":false,"tickCount":100,"values":[-100,-90,-80,-70,-60,-50,-40,-30,-20,-10,0,10,20,30,40,50,60,70,80,90,100],"labelExpr":"datum.value % 20 == 0 ? format(datum.value, 'd') : ''","tickSize":{"condition":{"test":"datum.value % 20 != 0","value":3},"value":5}}},
    "color":{"field":"series","type":"nominal","scale":{"domain":["donor","acceptor"],"range":["#74c04f","#e8262b"]},
     "legend":{"title":null,"orient":"none","legendX":222.5,"legendY":9.5,"symbolSize":108,"labelOffset":14.5,"rowPadding":-4}}
   }},
  {"data":{"values":[{}]},"mark":{"type":"rect","color":"#000"},"encoding":{"x":{"datum":0.037},"x2":{"datum":0.637},"y":{"datum":-76.9},"y2":{"datum":-99.7}}},
  {"data":{"values":[{}]},"mark":{"type":"rect","fill":"#fff","stroke":"#000","strokeWidth":1},"encoding":{"x":{"datum":0.017},"x2":{"datum":0.617},"y":{"datum":-73.5},"y2":{"datum":-96.3}}},
  {"data":{"values":[{}]},"mark":{"type":"text","align":"left","baseline":"middle","fontSize":15,"color":"#000"},"encoding":{"x":{"datum":0.067},"y":{"datum":-86},"text":{"value":"SPCM-AQR"}}}
 ]
},
{
 "width":300,"height":240,
 "title":{"text":"(b)","dx":-35,"dy":18},
 "layer":[
  {"data":{"name":"tb"},"transform":[{"fold":["donor","acceptor"],"as":["series","v"]}],
   "mark":{"type":"line","strokeWidth":1,"clip":true},
   "encoding":{
    "x":{"field":"t","type":"quantitative","scale":{"domain":[0,1.5],"nice":false,"zero":false},
     "axis":{"title":null,"labelOverlap":false,"tickCount":100,"values":[0,0.125,0.25,0.375,0.5,0.625,0.75,0.875,1,1.125,1.25,1.375,1.5],"labelExpr":"datum.value == 0 ? '0' : ((datum.value*4) % 1 == 0 ? format(datum.value, '.2f') : '')","tickSize":{"condition":{"test":"(datum.value*4) % 1 != 0","value":3},"value":5}}},
    "y":{"field":"v","type":"quantitative","scale":{"domain":[-100,100],"nice":false},
     "axis":{"title":null,"labels":false,"tickCount":100,"values":[-100,-90,-80,-70,-60,-50,-40,-30,-20,-10,0,10,20,30,40,50,60,70,80,90,100],"tickSize":{"condition":{"test":"datum.value % 20 != 0","value":3},"value":5}}},
    "color":{"field":"series","type":"nominal","scale":{"domain":["donor","acceptor"],"range":["#74c04f","#e8262b"]},
     "legend":{"title":null,"orient":"none","legendX":218.5,"legendY":8.5,"symbolSize":108,"labelOffset":14,"rowPadding":-4}}
   }},
  {"data":{"values":[{}]},"mark":{"type":"rect","color":"#000"},"encoding":{"x":{"datum":0.024},"x2":{"datum":0.535},"y":{"datum":-75.5},"y2":{"datum":-99.9}}},
  {"data":{"values":[{}]},"mark":{"type":"rect","fill":"#fff","stroke":"#000","strokeWidth":1},"encoding":{"x":{"datum":0.0065},"x2":{"datum":0.518},"y":{"datum":-72.6},"y2":{"datum":-97.2}}},
  {"data":{"values":[{}]},"mark":{"type":"text","align":"left","baseline":"middle","fontSize":15,"color":"#000"},"encoding":{"x":{"datum":0.057},"y":{"datum":-86},"text":{"value":"RE-SPAD"}}}
 ]
},
{
 "width":300,"height":240,
 "title":{"text":"(c)","dx":-40,"dy":14},
 "layer":[
  {"data":{"name":"tc"},"transform":[{"fold":["f","i"],"as":["s","L"]},{"filter":"datum.L != null"}],
   "mark":{"type":"line","strokeWidth":1.2,"clip":true},
   "encoding":{
    "x":{"field":"t","type":"quantitative","scale":{"domain":[-1,9.5],"nice":false,"zero":false},
     "axis":{"title":"time (ns)","titlePadding":2,"labelOverlap":false,"tickCount":100,"values":[-1,-0.5,0,0.5,1,1.5,2,2.5,3,3.5,4,4.5,5,5.5,6,6.5,7,7.5,8,8.5,9,9.5],"labelExpr":"datum.value % 1 == 0 ? format(datum.value, 'd') : ''","tickSize":{"condition":{"test":"datum.value % 1 != 0","value":3},"value":5}}},
    "y":{"field":"L","type":"quantitative","scale":{"domain":[0,2.195],"nice":false,"zero":false},
     "axis":{"title":null,"labels":false,"tickCount":100,"values":[0,0.301,0.477,0.602,0.699,0.778,0.845,0.903,0.954,1,1.301,1.477,1.602,1.699,1.778,1.845,1.903,1.954,2],"tickSize":{"condition":{"test":"datum.value == 0 || datum.value == 1 || datum.value == 2","value":7},"value":4}}},
    "color":{"field":"s","type":"nominal","scale":{"domain":["f","r","i"],"range":["#74c04f","#e8262b","#000000"]},
     "legend":{"title":null,"orient":"none","legendX":155.5,"legendY":0.5,"labelOffset":6.5,"rowPadding":-3,
      "labelExpr":"datum.label == 'f' ? 'FRET decay' : (datum.label == 'r' ? 'Fit (τ\u2009=\u20092.5\u2009ns)' : 'IRF (FWHM*\u2009=\u2009330\u2009ps)')"}}
   }},
  {"data":{"name":"gc"},"mark":{"type":"line","color":"#b4b4b4","strokeWidth":1.2,"clip":true},"encoding":{"x":{"field":"t","type":"quantitative"},"y":{"field":"L","type":"quantitative"}}},
  {"data":{"name":"rc"},"mark":{"type":"line","strokeWidth":1.3,"clip":true},"encoding":{"x":{"field":"t","type":"quantitative"},"y":{"field":"L","type":"quantitative"},"color":{"datum":"r","type":"nominal"}}},
  {"data":{"values":[{}]},"mark":{"type":"rect","color":"#000"},"encoding":{"x":{"datum":3.54},"x2":{"datum":7.25},"y":{"datum":0.976},"y2":{"datum":0.718}}},
  {"data":{"values":[{}]},"mark":{"type":"rect","fill":"#fff","stroke":"#000","strokeWidth":1},"encoding":{"x":{"datum":3.4},"x2":{"datum":7.11},"y":{"datum":1.012},"y2":{"datum":0.755}}},
  {"data":{"values":[{}]},"mark":{"type":"text","align":"left","baseline":"middle","fontSize":15,"color":"#000"},"encoding":{"x":{"datum":3.73},"y":{"datum":0.875},"text":{"value":"SPCM-AQR"}}}
 ]
},
{
 "width":300,"height":240,
 "title":{"text":"(d)","dx":-32,"dy":15},
 "layer":[
  {"data":{"name":"td"},"transform":[{"fold":["f","i"],"as":["s","L"]},{"filter":"datum.L != null"}],
   "mark":{"type":"line","strokeWidth":1.2,"clip":true},
   "encoding":{
    "x":{"field":"t","type":"quantitative","scale":{"domain":[0,9.5],"nice":false,"zero":false},
     "axis":{"title":"time (ns)","titlePadding":2,"labelOverlap":false,"tickCount":100,"values":[0,0.5,1,1.5,2,2.5,3,3.5,4,4.5,5,5.5,6,6.5,7,7.5,8,8.5,9,9.5],"labelExpr":"datum.value % 1 == 0 ? format(datum.value, 'd') : ''","tickSize":{"condition":{"test":"datum.value % 1 != 0","value":3},"value":5}}},
    "y":{"field":"L","type":"quantitative","scale":{"domain":[0,2.233],"nice":false,"zero":false},
     "axis":{"title":null,"labels":false,"tickCount":100,"values":[0,0.301,0.477,0.602,0.699,0.778,0.845,0.903,0.954,1,1.301,1.477,1.602,1.699,1.778,1.845,1.903,1.954,2],"tickSize":{"condition":{"test":"datum.value == 0 || datum.value == 1 || datum.value == 2","value":7},"value":4}}},
    "color":{"field":"s","type":"nominal","scale":{"domain":["f","r","i"],"range":["#74c04f","#e8262b","#000000"]},
     "legend":{"title":null,"orient":"none","legendX":139.5,"legendY":0.5,"labelOffset":11.5,"rowPadding":-2.5,
      "labelExpr":"datum.label == 'f' ? 'FRET decay' : (datum.label == 'r' ? 'Fit (τ\u2009=\u20092.5\u2009ns)' : 'IRF (FWHM*\u2009=\u200971\u2009ps)')"}}
   }},
  {"data":{"name":"gd"},"mark":{"type":"line","color":"#b4b4b4","strokeWidth":1.2,"clip":true},"encoding":{"x":{"field":"t","type":"quantitative"},"y":{"field":"L","type":"quantitative"}}},
  {"data":{"name":"rd"},"mark":{"type":"line","strokeWidth":1.3,"clip":true},"encoding":{"x":{"field":"t","type":"quantitative"},"y":{"field":"L","type":"quantitative"},"color":{"datum":"r","type":"nominal"}}},
  {"data":{"values":[{}]},"mark":{"type":"rect","color":"#000"},"encoding":{"x":{"datum":3.05},"x2":{"datum":5.88},"y":{"datum":1.076},"y2":{"datum":0.8}}},
  {"data":{"values":[{}]},"mark":{"type":"rect","fill":"#fff","stroke":"#000","strokeWidth":1},"encoding":{"x":{"datum":2.95},"x2":{"datum":5.78},"y":{"datum":1.107},"y2":{"datum":0.831}}},
  {"data":{"values":[{}]},"mark":{"type":"text","align":"left","baseline":"middle","fontSize":15,"color":"#000"},"encoding":{"x":{"datum":3.27},"y":{"datum":0.96},"text":{"value":"RE-SPAD"}}}
 ]
}
]
}
